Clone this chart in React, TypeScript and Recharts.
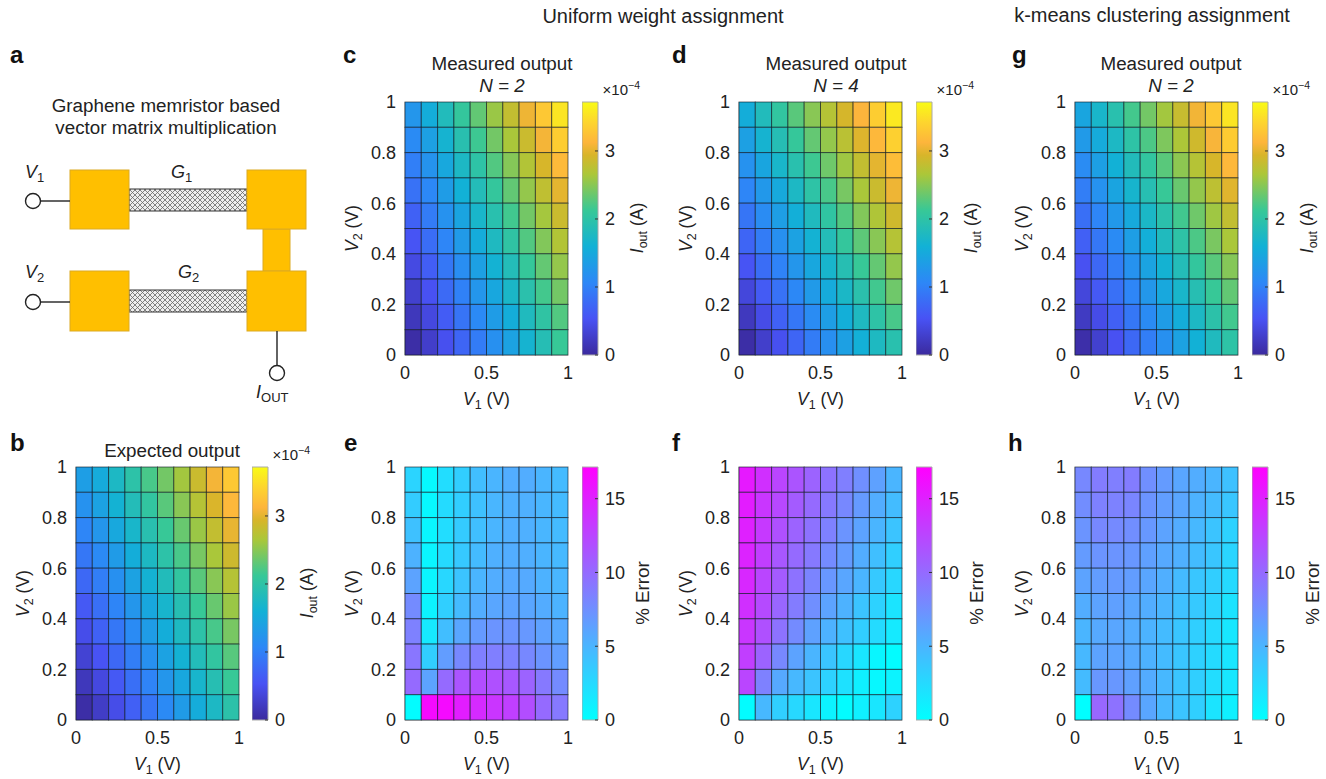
import { Bar, BarChart, Scatter, ScatterChart, XAxis, YAxis } from "recharts"

const FONT = "'Liberation Sans', Arial, sans-serif"
const INK = "#222"

// heatmap rows run from V2 = 1 (top) down to V2 = 0
const expected = [
  [1.35, 1.52, 1.75, 1.98, 2.2, 2.4, 2.62, 2.85, 3.08, 3.3],
  [1.2, 1.4, 1.62, 1.85, 2.05, 2.28, 2.5, 2.72, 2.95, 3.15],
  [1.05, 1.25, 1.48, 1.7, 1.92, 2.12, 2.35, 2.58, 2.8, 3.02],
  [0.9, 1.1, 1.32, 1.55, 1.76, 1.98, 2.2, 2.42, 2.65, 2.87],
  [0.75, 0.97, 1.18, 1.4, 1.62, 1.83, 2.05, 2.28, 2.5, 2.72],
  [0.6, 0.82, 1.04, 1.25, 1.47, 1.68, 1.9, 2.12, 2.35, 2.58],
  [0.47, 0.68, 0.9, 1.12, 1.33, 1.55, 1.77, 1.98, 2.2, 2.42],
  [0.33, 0.54, 0.75, 0.97, 1.18, 1.4, 1.62, 1.84, 2.05, 2.27],
  [0.18, 0.4, 0.6, 0.82, 1.03, 1.25, 1.47, 1.68, 1.9, 2.12],
  [0.05, 0.25, 0.46, 0.67, 0.88, 1.1, 1.32, 1.53, 1.75, 1.97],
]

const measuredUniform2 = [
  [1.25, 1.55, 1.82, 2.08, 2.32, 2.58, 2.8, 3.05, 3.3, 3.55],
  [1.12, 1.38, 1.65, 1.92, 2.15, 2.4, 2.65, 2.85, 3.08, 3.35],
  [0.98, 1.22, 1.48, 1.75, 2.0, 2.25, 2.48, 2.7, 2.93, 3.17],
  [0.85, 1.08, 1.33, 1.6, 1.85, 2.08, 2.32, 2.55, 2.78, 3.0],
  [0.68, 0.95, 1.2, 1.43, 1.7, 1.93, 2.17, 2.4, 2.63, 2.85],
  [0.55, 0.8, 1.05, 1.3, 1.53, 1.78, 2.02, 2.25, 2.47, 2.7],
  [0.42, 0.65, 0.9, 1.15, 1.38, 1.62, 1.85, 2.1, 2.33, 2.55],
  [0.3, 0.52, 0.77, 1.0, 1.25, 1.47, 1.72, 1.95, 2.18, 2.4],
  [0.18, 0.4, 0.63, 0.87, 1.1, 1.33, 1.55, 1.8, 2.02, 2.25],
  [0.05, 0.27, 0.5, 0.72, 0.95, 1.18, 1.4, 1.65, 1.88, 2.12],
]

const measuredUniform4 = [
  [1.55, 1.82, 2.05, 2.28, 2.5, 2.72, 2.92, 3.12, 3.35, 3.58],
  [1.38, 1.65, 1.88, 2.1, 2.33, 2.55, 2.75, 2.97, 3.15, 3.38],
  [1.2, 1.45, 1.7, 1.93, 2.15, 2.38, 2.6, 2.8, 3.0, 3.2],
  [1.05, 1.28, 1.5, 1.75, 2.0, 2.2, 2.42, 2.65, 2.85, 3.05],
  [0.88, 1.13, 1.35, 1.57, 1.8, 2.03, 2.25, 2.47, 2.68, 2.88],
  [0.72, 0.95, 1.18, 1.4, 1.62, 1.85, 2.08, 2.3, 2.5, 2.72],
  [0.55, 0.8, 1.02, 1.25, 1.47, 1.68, 1.9, 2.12, 2.33, 2.55],
  [0.38, 0.62, 0.85, 1.08, 1.3, 1.52, 1.73, 1.95, 2.17, 2.38],
  [0.2, 0.45, 0.68, 0.9, 1.13, 1.35, 1.57, 1.78, 2.0, 2.2],
  [0.05, 0.28, 0.5, 0.72, 0.95, 1.17, 1.38, 1.58, 1.77, 1.93],
]

const measuredKmeans2 = [
  [1.45, 1.7, 1.93, 2.18, 2.4, 2.62, 2.83, 3.07, 3.3, 3.55],
  [1.3, 1.52, 1.75, 2.0, 2.22, 2.45, 2.67, 2.88, 3.1, 3.33],
  [1.13, 1.37, 1.6, 1.83, 2.05, 2.28, 2.52, 2.72, 2.93, 3.15],
  [0.97, 1.2, 1.43, 1.67, 1.9, 2.12, 2.35, 2.55, 2.77, 2.98],
  [0.82, 1.05, 1.28, 1.5, 1.73, 1.95, 2.17, 2.38, 2.6, 2.8],
  [0.67, 0.9, 1.12, 1.35, 1.57, 1.8, 2.0, 2.22, 2.43, 2.65],
  [0.52, 0.75, 0.97, 1.2, 1.42, 1.63, 1.85, 2.07, 2.28, 2.48],
  [0.38, 0.6, 0.83, 1.05, 1.27, 1.48, 1.7, 1.9, 2.12, 2.32],
  [0.22, 0.45, 0.67, 0.9, 1.12, 1.33, 1.55, 1.75, 1.97, 2.17],
  [0.07, 0.3, 0.52, 0.75, 0.97, 1.18, 1.4, 1.6, 1.8, 2.0],
]

const errorUniform2 = [
  [2.9, 0.4, 2.3, 3.3, 4.4, 5, 5.5, 5.5, 5, 4.6],
  [3.4, 0.5, 2.4, 3.3, 4.2, 4.9, 5.3, 5.3, 4.9, 4.6],
  [4.2, 0.6, 2.3, 3.5, 4.3, 5, 5.4, 5.3, 4.9, 4.6],
  [5.2, 0.7, 2.5, 3.6, 4.6, 5.3, 5.5, 5.4, 5, 4.7],
  [6.2, 0.7, 2.7, 4, 5, 5.5, 5.8, 5.7, 5.2, 4.9],
  [7.8, 0.8, 3.2, 4.6, 5.5, 6, 6.2, 6, 5.6, 5.1],
  [8.5, 1.5, 4.4, 6, 6.8, 7.2, 7.2, 6.9, 6.3, 5.8],
  [9.2, 3.3, 6.6, 8, 8.6, 8.6, 8.4, 8, 7.2, 6.5],
  [10, 6.2, 10, 11.5, 12, 11.8, 11.2, 10.5, 9, 7.8],
  [0.2, 16.5, 16.5, 15.2, 14.3, 13.6, 12.9, 12, 10, 9],
]

const errorUniform4 = [
  [15.5, 14, 12.5, 11.5, 10.5, 9.5, 8.6, 7.5, 6.3, 5],
  [15.3, 13.5, 12.3, 11, 10, 9, 8, 6.8, 5.5, 4.5],
  [15, 13.3, 11.8, 10.5, 9.5, 8.5, 7.2, 6.2, 5, 4],
  [14.8, 13, 11.3, 10, 9, 7.8, 6.7, 5.5, 4.3, 3.2],
  [14.5, 12.5, 11, 9.5, 8.3, 7, 6, 5, 3.6, 2.7],
  [14, 12.2, 10.3, 8.8, 7.5, 6.2, 5.2, 4, 3, 1.8],
  [13.5, 11.8, 9.5, 7.8, 6.3, 5.2, 4.2, 3.3, 2.4, 1.4],
  [13, 10.5, 8, 6.2, 5, 3.9, 2.7, 1.7, 0.6, 0.2],
  [12.5, 8.5, 5.8, 4.8, 4, 3, 2, 1, 0.5, 0.8],
  [0.2, 4.8, 3.2, 2.6, 1.7, 0.8, 0.2, 1, 1.7, 3],
]

const errorKmeans2 = [
  [8, 8.8, 8.6, 8.8, 7.5, 6.7, 6, 5.5, 5, 4.2],
  [7.7, 8.5, 8.4, 8.2, 7.2, 6.5, 6, 5.2, 4.6, 3.8],
  [7.2, 8, 7.9, 7.6, 6.9, 6.2, 5.6, 4.8, 4, 3],
  [6.7, 7.2, 7.2, 7, 6.4, 5.8, 5.3, 4.5, 3.8, 2.8],
  [6.2, 6.6, 6.8, 6.6, 6, 5.4, 4.6, 3.8, 3.3, 2.5],
  [5.5, 6.2, 6.4, 6, 5.5, 5, 4.2, 3.6, 2.9, 1.9],
  [5, 5.8, 6, 5.6, 5.1, 4.6, 3.8, 3.2, 2.5, 1.6],
  [4.8, 6.2, 6.2, 5.8, 5.2, 4.6, 3.8, 3.1, 2.4, 1.7],
  [4.6, 7, 7, 6.4, 5.6, 4.8, 3.9, 3.2, 2.3, 1.6],
  [0.1, 10.2, 9.5, 7.8, 6, 4.8, 4, 3.2, 1.8, 1],
]

const xTicks = [0, 0.5, 1]
const yTicks = [0, 0.2, 0.4, 0.6, 0.8, 1]
const currentTicks = [0, 1, 2, 3]
const errorTicks = [0, 5, 10, 15]
const CURRENT_MAX = 3.72
const ERROR_MAX = 17.15

// [position, colour] along each colour bar
const parulaStops: [number, string][] = [
  [0, "#3b2a9e"],
  [0.143, "#4852f4"],
  [0.286, "#2d87f7"],
  [0.429, "#12b1d6"],
  [0.571, "#37c897"],
  [0.714, "#abc739"],
  [0.79, "#d8b52a"],
  [0.84, "#fdb53c"],
  [0.92, "#fdd52e"],
  [1, "#f9fb15"],
]
const coolStops: [number, string][] = [
  [0, "#00ffff"],
  [1, "#ff00ff"],
]

const PLOT_W = 163
const PLOT_H = 253
const PAD = 14

function colorAt(stops: [number, string][], t: number) {
  const v = Math.min(1, Math.max(0, t))
  let i = 0
  while (i < stops.length - 2 && v > stops[i + 1][0]) i++
  const [p0, c0] = stops[i]
  const [p1, c1] = stops[i + 1]
  const k = (v - p0) / (p1 - p0)
  const ch = (c: string, o: number) => parseInt(c.slice(o, o + 2), 16)
  const mix = (o: number) => Math.round(ch(c0, o) + (ch(c1, o) - ch(c0, o)) * k)
  return `rgb(${mix(1)},${mix(3)},${mix(5)})`
}

function toCells(rows: number[][]) {
  const cells: { x: number; y: number; value: number }[] = []
  rows.forEach((row, r) =>
    row.forEach((value, c) => {
      cells.push({ x: (c + 0.5) / 10, y: (9 - r + 0.5) / 10, value })
    }),
  )
  return cells
}

function Heatmap({ left, top, rows, stops, max }: any) {
  const cells = toCells(rows)
  return (
    <div style={{ position: "absolute", left: left - 62, top: top - PAD }}>
      <ScatterChart width={PLOT_W + 78} height={PLOT_H + PAD + 56} margin={{ top: PAD, right: 16, bottom: 0, left: 0 }}>
        <XAxis
          type="number"
          dataKey="x"
          domain={[0, 1]}
          ticks={xTicks}
          interval={0}
          tickLine={false}
          tickMargin={5}
          height={56}
          axisLine={{ stroke: "#999" }}
          tick={{ fontSize: 18, fill: INK, fontFamily: FONT }}
          label={{
            content: ({ viewBox }: any) => (
              <text x={viewBox.x + viewBox.width / 2} y={viewBox.y + 50} textAnchor="middle" fontFamily={FONT} fontSize={17.5} fill={INK}>
                <tspan fontStyle="italic">V</tspan>
                <tspan fontSize={12.5} dy={4}>1</tspan>
                <tspan dy={-4}> (V)</tspan>
              </text>
            ),
          }}
        />
        <YAxis
          type="number"
          dataKey="y"
          domain={[0, 1]}
          ticks={yTicks}
          interval={0}
          tickLine={false}
          tickMargin={3}
          width={62}
          axisLine={{ stroke: "#999" }}
          tick={{ fontSize: 18, fill: INK, fontFamily: FONT }}
          label={{
            content: ({ viewBox }: any) => {
              const tx = viewBox.x + viewBox.width - 47
              const ty = viewBox.y + viewBox.height / 2
              return (
                <text transform={`rotate(-90 ${tx} ${ty})`} x={tx} y={ty} textAnchor="middle" fontFamily={FONT} fontSize={17.5} fill={INK}>
                  <tspan fontStyle="italic">V</tspan>
                  <tspan fontSize={12.5} dy={4}>2</tspan>
                  <tspan dy={-4}> (V)</tspan>
                </text>
              )
            },
          }}
        />
        <Scatter
          data={cells}
          isAnimationActive={false}
          shape={(p: any) => (
            <rect
              x={p.cx - PLOT_W / 20}
              y={p.cy - PLOT_H / 20}
              width={PLOT_W / 10}
              height={PLOT_H / 10}
              fill={colorAt(stops, p.payload.value / max)}
              stroke="rgba(10,20,30,0.6)"
              strokeWidth={1}
            />
          )}
        />
      </ScatterChart>
    </div>
  )
}

function ColorBar({ left, top, id, stops, max, ticks }: any) {
  return (
    <div style={{ position: "absolute", left, top: top - PAD }}>
      <BarChart width={60} height={PLOT_H + PAD * 2} data={[{ name: "scale", top: max }]} barCategoryGap={0} margin={{ top: PAD, right: 0, bottom: PAD, left: 0 }}>
        <defs>
          <linearGradient id={id} x1="0" y1="1" x2="0" y2="0">
            {stops.map(([p, c]: [number, string]) => (
              <stop key={p} offset={p} stopColor={c} />
            ))}
          </linearGradient>
        </defs>
        <XAxis dataKey="name" hide />
        <YAxis
          orientation="right"
          type="number"
          domain={[0, max]}
          ticks={ticks}
          interval={0}
          width={44}
          axisLine={false}
          tickSize={-3}
          tickMargin={10}
          tickLine={{ stroke: "#333" }}
          tick={{ fontSize: 18, fill: INK, fontFamily: FONT }}
        />
        <Bar dataKey="top" fill={`url(#${id})`} stroke="#aaa" strokeWidth={1} isAnimationActive={false} />
      </BarChart>
    </div>
  )
}

function Note({ x, y, children, size = 18.8, anchor = "middle", bold = false, italic = false, rotate }: any) {
  return (
    <text
      x={x}
      y={y}
      textAnchor={anchor}
      fontSize={size}
      fontWeight={bold ? 700 : 400}
      fontStyle={italic ? "italic" : "normal"}
      fontFamily={FONT}
      fill={bold ? "#111" : INK}
      transform={rotate ? `rotate(${rotate} ${x} ${y})` : undefined}
    >
      {children}
    </text>
  )
}

function Sym({ x, y, name, sub }: any) {
  return (
    <Note x={x} y={y} anchor="start" size={18}>
      <tspan fontStyle="italic">{name}</tspan>
      <tspan fontSize={13} dy={4}>{sub}</tspan>
    </Note>
  )
}

function Schematic() {
  const pad = { fill: "#ffbf00", stroke: "#dcaa22", strokeWidth: 1 }
  return (
    <g>
      <defs>
        <pattern id="mesh" width="5" height="5" patternUnits="userSpaceOnUse">
          <rect width="5" height="5" fill="#eee" />
          <path d="M0 0L5 5M5 0L0 5" stroke="#666" strokeWidth="0.8" />
        </pattern>
      </defs>
      <rect x={129} y={189} width={118} height={22} fill="url(#mesh)" stroke="#333" strokeWidth={1} />
      <rect x={129} y={290} width={118} height={22} fill="url(#mesh)" stroke="#333" strokeWidth={1} />
      <rect x={263} y={229} width={27} height={42} {...pad} />
      <rect x={70} y={170} width={59} height={59} {...pad} />
      <rect x={247} y={170} width={59} height={59} {...pad} />
      <rect x={70} y={271} width={59} height={60} {...pad} />
      <rect x={247} y={271} width={59} height={60} {...pad} />
      <line x1={41} y1={201} x2={70} y2={201} stroke="#222" strokeWidth={1.4} />
      <line x1={41} y1={302} x2={70} y2={302} stroke="#222" strokeWidth={1.4} />
      <line x1={277} y1={331} x2={277} y2={365} stroke="#222" strokeWidth={1.4} />
      <circle cx={33} cy={201} r={7.5} fill="#fff" stroke="#222" strokeWidth={1.4} />
      <circle cx={33} cy={302} r={7.5} fill="#fff" stroke="#222" strokeWidth={1.4} />
      <circle cx={277} cy={373} r={7.5} fill="#fff" stroke="#222" strokeWidth={1.4} />
      <Sym x={25} y={178} name="V" sub="1" />
      <Sym x={171} y={178} name="G" sub="1" />
      <Sym x={25} y={278} name="V" sub="2" />
      <Sym x={178} y={278} name="G" sub="2" />
      <Sym x={256} y={398} name="I" sub="OUT" />
      <Note x={166} y={112}>Graphene memristor based</Note>
      <Note x={166} y={134}>vector matrix multiplication</Note>
    </g>
  )
}

const outputPanels = [
  { left: 76, top: 467, rows: expected, barLeft: 252 },
  { left: 405, top: 102, rows: measuredUniform2, barLeft: 582 },
  { left: 739, top: 102, rows: measuredUniform4, barLeft: 916 },
  { left: 1075, top: 102, rows: measuredKmeans2, barLeft: 1252 },
]
const errorPanels = [
  { left: 405, top: 467, rows: errorUniform2, barLeft: 582 },
  { left: 739, top: 467, rows: errorUniform4, barLeft: 916 },
  { left: 1075, top: 467, rows: errorKmeans2, barLeft: 1252 },
]

const panelLetters: [string, number, number][] = [
  ["a", 10, 63],
  ["b", 10, 451],
  ["c", 343, 63],
  ["d", 672, 63],
  ["g", 1012, 63],
  ["e", 344, 451],
  ["f", 672, 451],
  ["h", 1008, 451],
]

export default function App() {
  return (
    <div style={{ position: "absolute", left: 0, top: 0, width: 1326, height: 779, background: "#fff", overflow: "hidden" }}>
      {outputPanels.map((p) => (
        <div key={p.left + "-" + p.top}>
          <Heatmap left={p.left} top={p.top} rows={p.rows} stops={parulaStops} max={CURRENT_MAX} />
          <ColorBar left={p.barLeft} top={p.top} id={"parula" + p.left} stops={parulaStops} max={CURRENT_MAX} ticks={currentTicks} />
        </div>
      ))}
      {errorPanels.map((p) => (
        <div key={p.left + "-" + p.top}>
          <Heatmap left={p.left} top={p.top} rows={p.rows} stops={coolStops} max={ERROR_MAX} />
          <ColorBar left={p.barLeft} top={p.top} id={"cool" + p.left} stops={coolStops} max={ERROR_MAX} ticks={errorTicks} />
        </div>
      ))}
      <svg width={1326} height={779} style={{ position: "absolute", left: 0, top: 0, pointerEvents: "none" }}>
        <Schematic />
        {panelLetters.map(([t, x, y]) => (
          <Note key={t} x={x} y={y} size={24} anchor="start" bold>{t}</Note>
        ))}
        <Note x={663} y={23} size={20}>Uniform weight assignment</Note>
        <Note x={1152} y={22} size={20}>k-means clustering assignment</Note>
        <Note x={172} y={457}>Expected output</Note>
        {[502, 836, 1171].map((x) => (
          <Note key={x} x={x} y={70}>Measured output</Note>
        ))}
        <Note x={502} y={92} italic>N = 2</Note>
        <Note x={836} y={92} italic>N = 4</Note>
        <Note x={1171} y={92} italic>N = 2</Note>
        {outputPanels.map((p) => (
          <g key={p.left}>
            <Note x={p.barLeft + 58} y={p.top - 7} size={15} anchor="end">
              ×10<tspan fontSize={10.5} dy={-6}>−4</tspan>
            </Note>
            <Note x={p.barLeft + 61} y={p.top + 126} size={17.5} rotate={-90}>
              <tspan fontStyle="italic">I</tspan>
              <tspan fontSize={12.5} dy={4}>out</tspan>
              <tspan dy={-4}> (A)</tspan>
            </Note>
          </g>
        ))}
        {errorPanels.map((p) => (
          <Note key={p.left} x={p.barLeft + 67} y={p.top + 126} rotate={-90}>% Error</Note>
        ))}
      </svg>
    </div>
  )
}
